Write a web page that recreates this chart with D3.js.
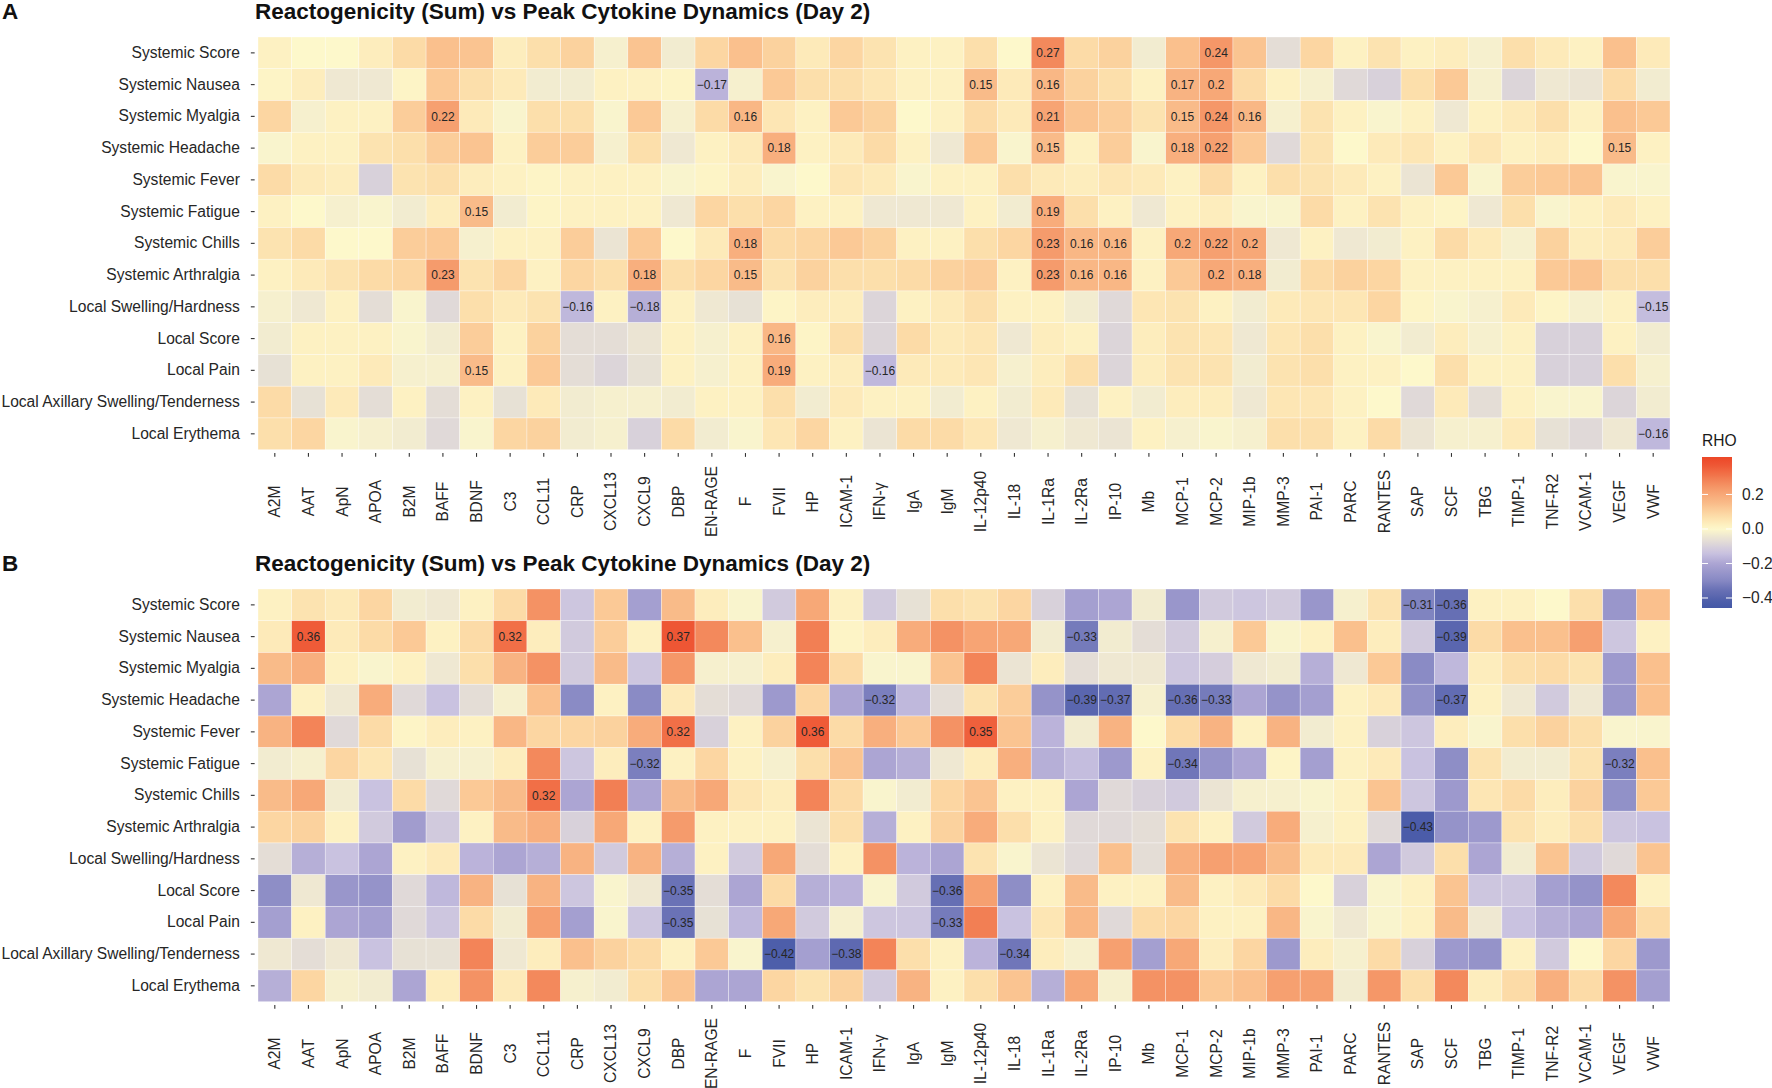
<!DOCTYPE html>
<html><head><meta charset="utf-8">
<script src="https://cdn.jsdelivr.net/npm/d3@7"></script>
<style>
body{margin:0;background:#fff;}
text{font-family:"Liberation Sans",Arial,Helvetica,sans-serif;}
</style>
</head><body>
<svg id="chart" width="1772" height="1088"></svg>
<script>
// ---------------- data ----------------
const rowLabels = ["Systemic Score","Systemic Nausea","Systemic Myalgia","Systemic Headache","Systemic Fever","Systemic Fatigue","Systemic Chills","Systemic Arthralgia","Local Swelling/Hardness","Local Score","Local Pain","Local Axillary Swelling/Tenderness","Local Erythema"];
const colLabels = ["A2M","AAT","ApN","APOA","B2M","BAFF","BDNF","C3","CCL11","CRP","CXCL13","CXCL9","DBP","EN-RAGE","F","FVII","HP","ICAM-1","IFN-γ","IgA","IgM","IL-12p40","IL-18","IL-1Ra","IL-2Ra","IP-10","Mb","MCP-1","MCP-2","MIP-1b","MMP-3","PAI-1","PARC","RANTES","SAP","SCF","TBG","TIMP-1","TNF-R2","VCAM-1","VEGF","VWF"];

// Panel A rho values (rows x columns)
const rhoA = [
 [0.02,0.00,0.00,0.03,0.08,0.14,0.13,0.03,0.07,0.10,-0.02,0.13,-0.03,0.09,0.14,0.10,0.04,0.09,0.06,0.02,0.02,0.07,0.00,0.27,0.08,0.10,-0.03,0.14,0.24,0.13,-0.07,0.09,0.02,0.06,0.02,0.03,-0.02,0.07,0.04,0.02,0.14,0.04],
 [0.01,0.03,-0.04,-0.04,0.01,0.12,0.07,0.04,-0.03,-0.03,0.02,0.02,0.01,-0.17,-0.02,0.12,0.07,0.07,0.05,0.02,0.02,0.15,0.04,0.16,0.10,0.07,0.02,0.17,0.20,0.08,0.02,-0.02,-0.08,-0.10,0.07,0.12,-0.02,-0.09,-0.04,-0.05,0.08,-0.03],
 [0.09,-0.02,0.02,0.02,0.11,0.22,0.04,-0.01,0.07,0.07,-0.01,0.12,-0.02,0.08,0.16,0.05,0.02,0.12,0.10,0.00,0.02,0.08,0.04,0.21,0.13,0.11,0.06,0.15,0.24,0.16,-0.02,0.06,0.02,-0.01,0.02,-0.04,0.02,0.04,0.07,0.02,0.14,0.12],
 [-0.01,0.02,0.02,0.06,0.07,0.11,0.13,0.02,0.11,0.11,-0.02,0.07,-0.04,0.02,0.04,0.18,0.02,0.04,0.08,0.02,-0.04,0.12,-0.01,0.15,0.02,0.11,-0.01,0.18,0.22,0.12,-0.08,0.06,0.00,0.04,0.05,0.02,0.05,0.02,0.03,0.00,0.15,0.02],
 [0.08,0.04,0.03,-0.10,0.06,0.07,0.03,0.02,0.01,0.02,0.02,0.02,-0.01,0.01,0.03,-0.01,0.00,0.05,0.04,-0.01,0.02,0.02,0.07,0.04,0.03,0.05,0.04,0.02,0.08,0.02,0.07,0.06,0.04,0.02,-0.05,0.12,-0.01,0.11,0.12,0.13,-0.01,-0.01],
 [0.02,0.00,-0.02,-0.01,-0.03,0.03,0.15,-0.03,0.01,0.02,0.02,0.02,-0.04,0.09,0.07,0.09,0.02,0.02,-0.04,-0.04,-0.04,0.02,-0.03,0.19,0.07,0.02,-0.04,0.02,0.03,-0.01,-0.01,0.08,0.02,0.06,0.02,0.01,-0.04,0.07,-0.01,0.02,0.04,0.02],
 [0.06,0.08,0.00,0.00,0.11,0.12,-0.02,0.02,0.02,0.11,-0.05,0.12,0.00,0.04,0.18,0.08,0.09,0.12,0.10,0.02,0.02,0.07,0.09,0.23,0.16,0.16,0.02,0.20,0.22,0.20,-0.04,0.02,-0.04,-0.03,0.02,0.08,0.04,-0.02,0.10,0.03,0.04,0.11],
 [0.02,0.04,0.06,0.08,0.09,0.23,0.06,0.09,0.02,0.09,0.07,0.18,0.07,0.09,0.15,0.06,0.10,0.07,0.07,0.08,0.10,0.11,0.02,0.23,0.16,0.16,0.02,0.12,0.20,0.18,-0.03,0.08,0.10,0.09,0.02,0.02,0.02,0.02,0.12,0.13,0.07,0.07],
 [-0.02,-0.04,0.02,-0.07,-0.01,-0.08,0.07,0.04,0.06,-0.16,0.02,-0.18,0.02,-0.04,-0.06,0.01,0.03,0.03,-0.09,0.02,0.04,0.07,0.02,0.02,-0.03,-0.08,0.05,0.06,0.02,-0.03,0.04,0.05,0.05,0.09,0.01,-0.01,-0.02,0.04,0.01,-0.02,0.02,-0.15],
 [-0.03,0.02,0.02,0.02,-0.01,-0.03,0.11,0.02,0.10,-0.07,-0.07,-0.05,0.02,-0.02,0.02,0.16,0.01,0.07,-0.09,0.08,0.04,0.05,-0.04,0.03,0.02,-0.09,0.03,0.06,0.05,-0.04,0.05,0.07,0.02,-0.01,-0.03,0.03,-0.02,0.02,-0.10,-0.10,0.02,-0.03],
 [-0.06,0.02,0.02,0.04,-0.02,-0.02,0.15,0.02,0.12,-0.07,-0.09,-0.06,0.02,-0.02,0.02,0.19,0.02,0.03,-0.16,0.04,0.04,0.05,-0.02,0.03,0.07,-0.09,0.03,0.06,0.06,-0.03,0.06,0.07,0.02,0.02,0.00,0.07,0.02,0.02,-0.10,-0.10,0.07,-0.02],
 [0.08,-0.06,0.04,-0.07,0.02,-0.07,0.02,-0.06,0.04,-0.03,-0.02,-0.02,-0.03,0.02,0.02,0.07,-0.03,0.04,0.02,0.02,-0.03,0.02,-0.03,0.04,-0.06,0.02,-0.03,0.03,0.03,-0.04,0.05,0.05,0.02,0.00,-0.08,0.04,-0.07,0.02,-0.01,-0.01,-0.09,-0.03],
 [0.07,0.09,-0.01,-0.02,-0.03,-0.08,-0.01,0.09,0.10,-0.03,-0.02,-0.10,0.08,-0.03,-0.01,0.05,0.09,0.02,-0.05,0.08,0.08,0.05,-0.04,-0.02,-0.04,-0.05,0.02,-0.02,-0.01,-0.02,0.07,0.07,0.02,0.08,-0.05,-0.02,-0.02,0.04,-0.06,-0.08,-0.04,-0.16]
];

// Panel B rho values (rows x columns)
const rhoB = [
 [0.02,0.06,0.04,0.09,-0.03,-0.04,0.02,0.08,0.25,-0.13,0.12,-0.22,0.15,0.03,-0.01,-0.12,0.20,0.02,-0.12,-0.06,0.07,0.06,0.09,-0.10,-0.22,-0.20,-0.03,-0.25,-0.12,-0.13,-0.12,-0.25,-0.02,0.06,-0.31,-0.36,0.02,0.02,0.00,0.07,-0.25,0.14],
 [0.04,0.36,0.04,0.08,0.12,0.02,0.08,0.32,0.03,-0.12,0.11,0.02,0.37,0.27,0.14,-0.02,0.29,0.01,0.03,0.19,0.25,0.21,0.20,-0.03,-0.33,-0.03,-0.07,-0.12,-0.02,0.12,-0.01,0.02,0.14,0.03,-0.12,-0.39,0.08,0.14,0.14,0.22,-0.13,0.02],
 [0.15,0.18,0.02,-0.01,0.02,-0.04,0.07,0.17,0.25,-0.12,0.15,-0.13,0.24,-0.02,-0.02,0.03,0.28,0.08,-0.01,-0.01,0.13,0.28,-0.05,0.03,-0.07,-0.04,-0.04,-0.13,-0.11,-0.04,-0.03,-0.18,-0.04,0.12,-0.29,-0.16,0.03,0.07,0.08,0.06,-0.24,0.14],
 [-0.20,0.02,-0.04,0.19,-0.08,-0.14,-0.07,-0.02,0.14,-0.29,0.02,-0.29,0.04,-0.07,-0.08,-0.24,0.09,-0.20,-0.32,-0.16,-0.07,0.06,0.11,-0.26,-0.39,-0.37,-0.02,-0.36,-0.33,-0.20,-0.26,-0.22,0.02,0.04,-0.27,-0.37,0.02,-0.04,-0.12,-0.04,-0.25,0.14],
 [0.17,0.28,-0.08,0.08,0.01,0.03,0.02,0.16,0.09,0.09,0.10,0.19,0.32,-0.10,0.02,0.10,0.36,0.08,0.18,0.12,0.25,0.35,0.13,-0.17,-0.03,0.17,0.00,0.08,0.17,0.02,0.17,-0.03,0.02,-0.10,-0.13,0.03,-0.01,0.07,0.10,0.07,-0.01,-0.01],
 [-0.03,-0.02,0.09,0.05,-0.06,-0.02,-0.02,0.03,0.27,-0.13,0.03,-0.32,0.02,0.09,0.02,-0.02,0.07,0.13,-0.20,-0.18,-0.04,0.03,0.18,-0.18,-0.15,-0.24,0.02,-0.34,-0.26,-0.20,0.01,-0.22,0.02,0.04,-0.14,-0.28,0.06,-0.03,-0.03,0.06,-0.32,0.14],
 [0.15,0.20,-0.03,-0.14,0.08,-0.08,0.12,0.15,0.32,-0.20,0.29,-0.20,0.15,0.20,0.05,0.03,0.28,0.08,-0.01,-0.03,0.09,0.13,0.02,0.02,-0.20,-0.08,-0.10,-0.12,-0.05,-0.02,-0.02,-0.01,0.02,0.13,-0.13,-0.24,0.05,0.08,0.03,0.10,-0.27,0.12],
 [0.09,0.10,0.02,-0.12,-0.23,-0.12,0.02,0.15,0.18,-0.10,0.20,0.02,0.23,0.02,0.02,0.02,-0.05,0.07,-0.18,0.02,0.10,0.19,0.07,0.02,-0.08,-0.08,-0.07,0.06,0.02,-0.12,0.19,-0.02,0.02,-0.08,-0.43,-0.26,-0.24,0.06,0.03,0.07,-0.13,-0.14],
 [-0.07,-0.18,-0.14,-0.20,0.02,0.04,-0.17,-0.20,-0.18,0.17,-0.12,0.17,-0.18,0.02,-0.12,0.20,-0.07,0.02,0.25,-0.17,-0.20,0.06,-0.01,-0.05,-0.08,0.14,-0.07,0.18,0.22,0.21,0.15,0.04,0.04,-0.20,-0.12,0.07,-0.20,-0.03,0.13,-0.12,-0.08,0.13],
 [-0.28,-0.04,-0.25,-0.26,-0.08,-0.16,0.17,-0.06,0.17,-0.13,-0.01,-0.04,-0.35,-0.07,-0.20,0.08,-0.18,-0.17,-0.01,-0.12,-0.36,0.22,-0.28,0.02,0.15,0.02,0.02,0.15,0.02,0.04,0.08,0.00,-0.10,-0.01,0.02,0.13,-0.13,-0.13,-0.22,-0.26,0.27,0.02],
 [-0.22,0.02,-0.20,-0.22,-0.08,-0.13,0.08,-0.03,0.22,-0.22,-0.01,-0.13,-0.35,-0.06,-0.16,0.20,-0.12,-0.02,-0.13,-0.13,-0.33,0.29,-0.14,0.05,0.16,-0.08,0.08,0.09,0.02,0.02,0.16,-0.01,-0.04,-0.01,0.02,0.15,-0.04,-0.14,-0.18,-0.20,0.20,0.08],
 [-0.04,-0.07,-0.04,-0.14,-0.06,-0.06,0.28,-0.04,0.03,0.14,0.10,0.08,0.02,0.12,-0.01,-0.42,-0.22,-0.38,0.28,0.07,0.02,-0.17,-0.34,0.03,-0.02,0.22,-0.22,0.20,0.03,0.09,-0.24,0.03,-0.02,0.08,-0.10,-0.24,-0.26,0.02,-0.12,0.00,0.09,-0.24],
 [-0.18,0.09,-0.02,-0.03,-0.20,0.03,0.25,0.04,0.27,-0.02,-0.03,0.07,0.13,-0.20,-0.20,0.09,0.06,0.10,-0.12,0.17,0.02,0.07,0.13,-0.18,0.20,-0.02,0.25,0.25,0.12,0.14,0.22,0.22,-0.03,0.24,0.07,0.27,0.03,0.08,0.18,0.08,0.25,-0.22]
];

const panelTags = ["A","B"];
const panelTitles = ["Reactogenicity (Sum) vs Peak Cytokine Dynamics (Day 2)","Reactogenicity (Sum) vs Peak Cytokine Dynamics (Day 2)"];
const labelThresholds = [0.145, 0.305];   // |rho| at or above which a cell is annotated
const legendTicks = [-0.4, -0.2, 0.0, 0.2];
const legendTitle = "RHO";
const rhoRange = [-0.458, 0.417];

// colour ramp stops
const rampDomain = [-0.46,-0.42,-0.35,-0.30,-0.20,-0.14,0,0.07,0.15,0.22,0.27,0.32,0.37,0.42];
const rampRange  = ["#4358a6","#4d5eaa","#6a72b6","#8688c3","#aca5d3","#c9c2e0","#fdf8cb","#fcdfab","#f9bb89","#f6a070","#f3895c","#f16f47","#ee5634","#ec4626"];

// ---------------- drawing ----------------
const svg = d3.select("#chart");
const FONT = 15.6;
const color = d3.scaleLinear().domain(rampDomain).range(rampRange).interpolate(d3.interpolateLab).clamp(true);

const gridLeft = 258, gridRight = 1670;
const panels = [
  {data: rhoA, top: 37, bottom: 449.7},
  {data: rhoB, top: 589, bottom: 1001.7}
];
const x = d3.scaleBand().domain(colLabels).range([gridLeft, gridRight]).padding(0);
const expand = x.bandwidth() * 0.1;
const fmt = v => { const s = String(Math.round(v*100)/100); return s.replace("-", "\u2212"); };

panels.forEach((p, pi) => {
  const y = d3.scaleBand().domain(rowLabels).range([p.top, p.bottom]).padding(0);
  const g = svg.append("g");
  const cells = [];
  p.data.forEach((row, ri) => row.forEach((v, ci) => cells.push({r: rowLabels[ri], c: colLabels[ci], v})));

  g.selectAll("rect.cell").data(cells).join("rect")
    .attr("class","cell")
    .attr("x", d => x(d.c)).attr("y", d => y(d.r))
    .attr("width", x.bandwidth()).attr("height", y.bandwidth())
    .attr("fill", d => color(d.v))
    .attr("stroke", "rgba(255,255,255,0.55)").attr("stroke-width", 0.6);

  g.selectAll("text.lab").data(cells.filter(d => Math.abs(d.v) >= labelThresholds[pi])).join("text")
    .attr("class","lab")
    .attr("x", d => x(d.c) + x.bandwidth()/2)
    .attr("y", d => y(d.r) + y.bandwidth()/2)
    .attr("dy","0.36em").attr("text-anchor","middle")
    .attr("font-size", 12).attr("fill","#262626")
    .text(d => fmt(d.v));

  // y axis
  const yAxis = d3.axisLeft(y).tickSize(3.8).tickPadding(11);
  const ya = svg.append("g").attr("transform", `translate(${gridLeft - expand},0)`).call(yAxis);
  ya.select(".domain").remove();
  ya.selectAll(".tick line").attr("stroke","#333").attr("stroke-width",1.1);
  ya.selectAll(".tick text").attr("font-size", FONT).attr("fill","#262626")
    .attr("font-family",'"Liberation Sans",Arial,sans-serif');

  // x axis
  const xAxis = d3.axisBottom(x).tickSize(3.8);
  const xa = svg.append("g").attr("transform", `translate(0,${p.bottom + expand})`).call(xAxis);
  xa.select(".domain").remove();
  xa.selectAll(".tick line").attr("stroke","#333").attr("stroke-width",1.1);
  xa.selectAll(".tick text")
    .attr("font-size", FONT).attr("fill","#262626")
    .attr("font-family",'"Liberation Sans",Arial,sans-serif')
    .attr("transform","rotate(-90)")
    .attr("x", -48.5).attr("y", 0).attr("dy","0.35em")
    .attr("text-anchor","middle");

  // titles
  const tBase = p.top - 18;
  svg.append("text").attr("x", 2).attr("y", tBase)
    .attr("font-size", 22.5).attr("font-weight","bold").attr("fill","#111").text(panelTags[pi]);
  svg.append("text").attr("x", 255).attr("y", tBase)
    .attr("font-size", 22.5).attr("font-weight","bold").attr("fill","#111").text(panelTitles[pi]);
});

// ---------------- legend ----------------
const lg = svg.append("g");
const barX = 1702, barW = 30, barTop = 457, barBot = 608;
const ly = d3.scaleLinear().domain(rhoRange).range([barBot, barTop]);
const defs = svg.append("defs");
const grad = defs.append("linearGradient").attr("id","rhoGrad")
  .attr("x1","0").attr("y1","1").attr("x2","0").attr("y2","0");
d3.range(0, 1.0001, 0.02).forEach(t => {
  const v = rhoRange[0] + t * (rhoRange[1] - rhoRange[0]);
  grad.append("stop").attr("offset", t).attr("stop-color", color(v));
});
lg.append("text").attr("x", barX).attr("y", 446).attr("font-size", FONT).attr("fill","#1a1a1a").text(legendTitle);
lg.append("rect").attr("x", barX).attr("y", barTop).attr("width", barW).attr("height", barBot - barTop).attr("fill","url(#rhoGrad)");
legendTicks.forEach(t => {
  const yy = ly(t);
  lg.append("line").attr("x1", barX).attr("x2", barX + barW/5).attr("y1", yy).attr("y2", yy).attr("stroke","#fff").attr("stroke-width",1);
  lg.append("line").attr("x1", barX + barW*4/5).attr("x2", barX + barW).attr("y1", yy).attr("y2", yy).attr("stroke","#fff").attr("stroke-width",1);
  lg.append("text").attr("x", barX + barW + 10).attr("y", yy).attr("dy","0.35em")
    .attr("font-size", FONT).attr("fill","#262626").text(t.toFixed(1).replace("-", "\u2212"));
});
</script>
</body></html>
